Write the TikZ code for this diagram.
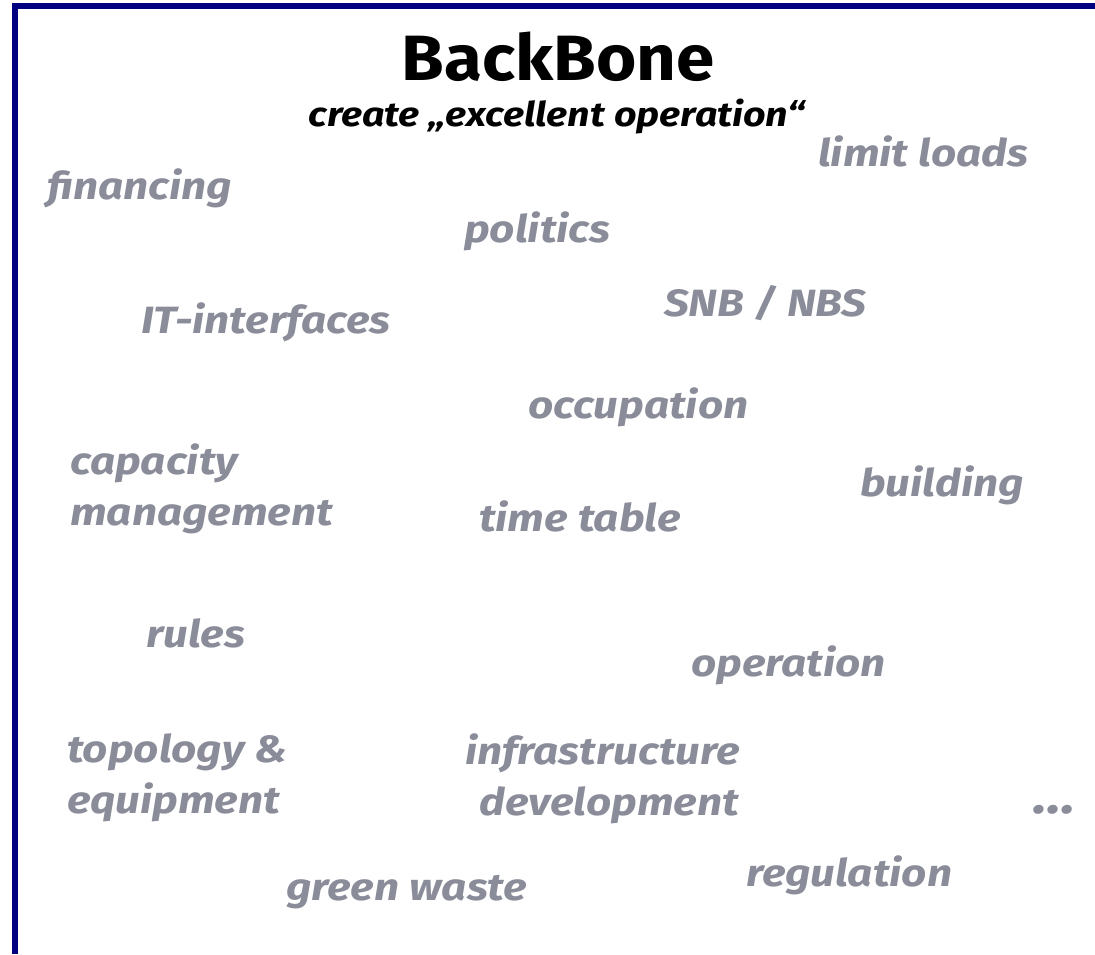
\documentclass[tikz,border=0pt]{standalone}
\usepackage{fontspec}
\setmainfont{Fira Sans}
\newfontfamily\wordfont[FakeStretch=1.16]{Fira Sans}
\newfontfamily\titlefont[FakeStretch=1.08]{Fira Sans}
\definecolor{frame}{HTML}{000080}
\definecolor{word}{HTML}{8A8D99}
\begin{document}
\begin{tikzpicture}[x=1pt,y=-1pt,
  word/.style={anchor=west,inner sep=0pt,text=word,font=\wordfont\fontsize{38}{40}\selectfont\bfseries\itshape,text height=7pt,text depth=2pt},
  title/.style={inner sep=0pt,font=\titlefont\fontsize{64}{66}\selectfont\bfseries,text height=7pt,text depth=2pt},
  sub/.style={inner sep=0pt,font=\wordfont\fontsize{34}{36}\selectfont\bfseries\itshape,text height=7pt,text depth=2pt}]
\useasboundingbox (0,0) rectangle (1095,954);
\draw[frame,line width=6pt] (15,954) -- (15,5.5) -- (1095,5.5);
\node[title] (t) at (558,77.5) {BackBone};
\node[sub] (s) at (557,123.5) {create „excellent operation“};
\node[word] (a) at (47,197) {financing};
\node[word] (b) at (818,164) {limit loads};
\node[word] (c) at (464,240) {politics};
\node[word] (d) at (141,331) {IT-interfaces};
\node[word] (e) at (664,314) {SNB / NBS};
\node[word] (f) at (528,416) {occupation};
\node[word] (g1) at (70,472) {capacity};
\node[word] (g2) at (70,523) {management};
\node[word] (h) at (860,494) {building};
\node[word] (i) at (479,529) {time table};
\node[word] (j) at (146,645) {rules};
\node[word] (k) at (691,674) {operation};
\node[word] (l1) at (67,760) {topology \&};
\node[word] (l2) at (67,811) {equipment};
\node[word] (m1) at (465,762) {infrastructure};
\node[word] (m2) at (479,813) {development};
\node[word,font=\wordfont\fontsize{50}{52}\selectfont\bfseries\itshape] (n) at (1033,811) {\dots};
\node[word] (o) at (286,898) {green waste};
\node[word] (p) at (746,884) {regulation};
\end{tikzpicture}
\end{document}
